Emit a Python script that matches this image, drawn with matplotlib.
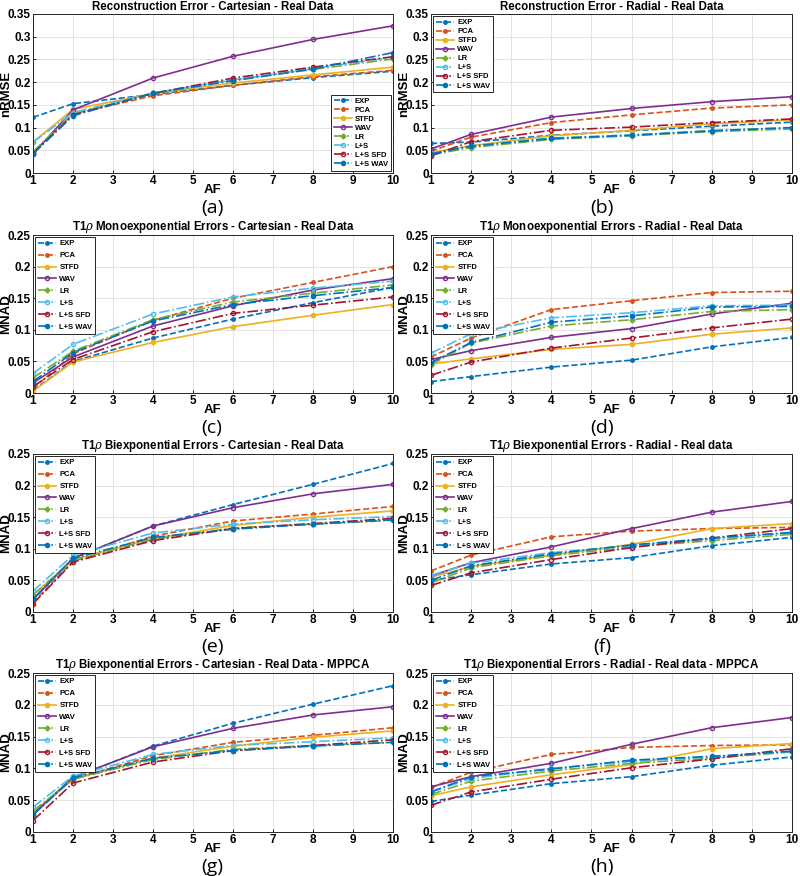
import matplotlib
matplotlib.use("Agg")
import matplotlib.pyplot as plt

AF = [1, 2, 4, 6, 8, 10]
methods = ["EXP", "PCA", "STFD", "WAV", "LR", "L+S", "L+S SFD", "L+S WAV"]

# (a) Reconstruction Error - Cartesian
a_vals = {
    "EXP": [0.1225, 0.1526, 0.173, 0.193, 0.210, 0.224],
    "PCA": [0.045, 0.130, 0.170, 0.193, 0.212, 0.226],
    "STFD": [0.068, 0.140, 0.175, 0.198, 0.216, 0.233],
    "WAV": [0.042, 0.139, 0.209, 0.257, 0.294, 0.324],
    "LR": [0.047, 0.130, 0.175, 0.205, 0.228, 0.251],
    "L+S": [0.068, 0.133, 0.176, 0.205, 0.230, 0.255],
    "L+S SFD": [0.043, 0.128, 0.175, 0.209, 0.233, 0.256],
    "L+S WAV": [0.042, 0.126, 0.176, 0.203, 0.229, 0.265],
}
# (b) Reconstruction Error - Radial
b_vals = {
    "EXP": [0.065, 0.068, 0.083, 0.093, 0.103, 0.112],
    "PCA": [0.048, 0.079, 0.111, 0.128, 0.143, 0.150],
    "STFD": [0.045, 0.060, 0.082, 0.094, 0.108, 0.117],
    "WAV": [0.053, 0.085, 0.123, 0.142, 0.157, 0.168],
    "LR": [0.040, 0.056, 0.074, 0.082, 0.091, 0.097],
    "L+S": [0.043, 0.060, 0.077, 0.084, 0.093, 0.100],
    "L+S SFD": [0.038, 0.069, 0.094, 0.101, 0.111, 0.119],
    "L+S WAV": [0.042, 0.059, 0.076, 0.083, 0.093, 0.100],
}
# (c) Mono - Cartesian
c_vals = {
    "EXP": [0.004, 0.050, 0.087, 0.117, 0.143, 0.167],
    "PCA": [0.007, 0.062, 0.115, 0.150, 0.175, 0.200],
    "STFD": [0.003, 0.049, 0.080, 0.105, 0.123, 0.140],
    "WAV": [0.016, 0.057, 0.106, 0.138, 0.163, 0.181],
    "LR": [0.024, 0.066, 0.116, 0.144, 0.158, 0.171],
    "L+S": [0.031, 0.077, 0.125, 0.152, 0.166, 0.177],
    "L+S SFD": [0.010, 0.053, 0.097, 0.126, 0.139, 0.152],
    "L+S WAV": [0.018, 0.064, 0.114, 0.140, 0.154, 0.167],
}
# (d) Mono - Radial
d_vals = {
    "EXP": [0.018, 0.026, 0.041, 0.052, 0.073, 0.088],
    "PCA": [0.057, 0.087, 0.132, 0.146, 0.159, 0.161],
    "STFD": [0.046, 0.054, 0.069, 0.077, 0.093, 0.103],
    "WAV": [0.053, 0.067, 0.088, 0.102, 0.125, 0.142],
    "LR": [0.045, 0.079, 0.106, 0.116, 0.129, 0.132],
    "L+S": [0.063, 0.094, 0.119, 0.127, 0.138, 0.139],
    "L+S SFD": [0.028, 0.049, 0.071, 0.087, 0.103, 0.117],
    "L+S WAV": [0.048, 0.080, 0.112, 0.122, 0.136, 0.137],
}
# (e) Bi - Cartesian
e_vals = {
    "EXP": [0.020, 0.085, 0.136, 0.170, 0.202, 0.235],
    "PCA": [0.015, 0.080, 0.120, 0.144, 0.155, 0.167],
    "STFD": [0.027, 0.083, 0.116, 0.137, 0.150, 0.160],
    "WAV": [0.020, 0.085, 0.136, 0.165, 0.187, 0.202],
    "LR": [0.027, 0.082, 0.115, 0.133, 0.139, 0.145],
    "L+S": [0.033, 0.090, 0.125, 0.139, 0.146, 0.151],
    "L+S SFD": [0.013, 0.079, 0.113, 0.132, 0.140, 0.148],
    "L+S WAV": [0.020, 0.085, 0.118, 0.131, 0.139, 0.146],
}
# (f) Bi - Radial
f_vals = {
    "EXP": [0.050, 0.059, 0.076, 0.086, 0.105, 0.118],
    "PCA": [0.065, 0.090, 0.119, 0.128, 0.132, 0.134],
    "STFD": [0.055, 0.072, 0.090, 0.107, 0.132, 0.140],
    "WAV": [0.057, 0.078, 0.103, 0.132, 0.158, 0.175],
    "LR": [0.046, 0.070, 0.089, 0.103, 0.113, 0.123],
    "L+S": [0.058, 0.077, 0.094, 0.105, 0.116, 0.125],
    "L+S SFD": [0.042, 0.062, 0.083, 0.102, 0.117, 0.132],
    "L+S WAV": [0.050, 0.073, 0.092, 0.106, 0.117, 0.126],
}
# (g) Bi - Cartesian - MPPCA
g_vals = {
    "EXP": [0.027, 0.085, 0.135, 0.171, 0.201, 0.230],
    "PCA": [0.030, 0.083, 0.120, 0.141, 0.152, 0.164],
    "STFD": [0.030, 0.083, 0.116, 0.135, 0.149, 0.159],
    "WAV": [0.028, 0.086, 0.134, 0.163, 0.184, 0.197],
    "LR": [0.033, 0.083, 0.114, 0.130, 0.136, 0.141],
    "L+S": [0.039, 0.088, 0.122, 0.136, 0.142, 0.148],
    "L+S SFD": [0.018, 0.077, 0.110, 0.128, 0.136, 0.145],
    "L+S WAV": [0.027, 0.085, 0.116, 0.128, 0.135, 0.141],
}
# (h) Bi - Radial - MPPCA
h_vals = {
    "EXP": [0.048, 0.058, 0.076, 0.087, 0.105, 0.118],
    "PCA": [0.070, 0.094, 0.122, 0.133, 0.136, 0.137],
    "STFD": [0.057, 0.071, 0.090, 0.106, 0.131, 0.139],
    "WAV": [0.071, 0.087, 0.108, 0.138, 0.164, 0.180],
    "LR": [0.059, 0.080, 0.096, 0.108, 0.116, 0.126],
    "L+S": [0.063, 0.084, 0.100, 0.111, 0.118, 0.127],
    "L+S SFD": [0.042, 0.063, 0.083, 0.101, 0.115, 0.131],
    "L+S WAV": [0.063, 0.087, 0.099, 0.113, 0.119, 0.127],
}

titles = [
    "Reconstruction Error - Cartesian - Real Data",
    "Reconstruction Error - Radial - Real Data",
    r"T1$\rho$ Monoexponential Errors - Cartesian - Real Data",
    r"T1$\rho$ Monoexponential Errors - Radial - Real Data",
    r"T1$\rho$ Biexponential Errors - Cartesian - Real Data",
    r"T1$\rho$ Biexponential Errors - Radial - Real data",
    r"T1$\rho$ Biexponential Errors - Cartesian - Real Data - MPPCA",
    r"T1$\rho$ Biexponential Errors - Radial - Real data - MPPCA",
]
panel_labels = ["(a)", "(b)", "(c)", "(d)", "(e)", "(f)", "(g)", "(h)"]
ylabels = ["nRMSE", "nRMSE"] + ["MNAD"] * 6
datasets = [a_vals, b_vals, c_vals, d_vals, e_vals, f_vals, g_vals, h_vals]

C_BLUE = (0.0, 0.447, 0.741)
C_ORANGE = (0.85, 0.325, 0.098)
C_YELLOW = (0.929, 0.694, 0.125)
C_PURPLE = (0.494, 0.184, 0.556)
C_GREEN = (0.466, 0.674, 0.188)
C_CYAN = (0.301, 0.745, 0.933)
C_RED = (0.635, 0.078, 0.184)
styles = {
    "EXP": dict(color=C_BLUE, ls="--", marker=".", ms=5),
    "PCA": dict(color=C_ORANGE, ls="--", marker=".", ms=5),
    "STFD": dict(color=C_YELLOW, ls="-", marker="o", ms=3.0),
    "WAV": dict(color=C_PURPLE, ls="-", marker="o", ms=3.0, mfc="none"),
    "LR": dict(color=C_GREEN, ls="-.", marker="P", ms=3.2),
    "L+S": dict(color=C_CYAN, ls="-.", marker="o", ms=3.0, mfc="none"),
    "L+S SFD": dict(color=C_RED, ls="-.", marker="o", ms=3.0, mfc="none"),
    "L+S WAV": dict(color=C_BLUE, ls="-.", marker="o", ms=3.0),
}

plt.rcParams["font.family"] = ["Liberation Sans", "DejaVu Sans"]
plt.rcParams["mathtext.fontset"] = "dejavuserif"

W, H = 800, 876
fig = plt.figure(figsize=(W / 100, H / 100), dpi=100)

cols = [(33, 393), (431, 792)]
rows = [(14, 173), (235, 393), (454, 612), (673, 832)]
label_x = [212, 602]

for i in range(8):
    r, c = divmod(i, 2)
    x0, x1 = cols[c]
    y0, y1 = rows[r]
    ax = fig.add_axes([x0 / W, 1 - y1 / H, (x1 - x0) / W, (y1 - y0) / H])
    data = datasets[i]
    for m in methods:
        st = dict(styles[m])
        ax.plot(AF, data[m], label=m, lw=1.2, **st)
    ax.set_xlim(1, 10)
    ax.set_xticks(range(1, 11))
    if i < 2:
        ax.set_ylim(0, 0.35)
        ax.set_yticks([0, 0.05, 0.1, 0.15, 0.2, 0.25, 0.3, 0.35])
        ax.set_yticklabels(["0", "0.05", "0.1", "0.15", "0.2", "0.25", "0.3", "0.35"])
    else:
        ax.set_ylim(0, 0.25)
        ax.set_yticks([0, 0.05, 0.1, 0.15, 0.2, 0.25])
        ax.set_yticklabels(["0", "0.05", "0.1", "0.15", "0.2", "0.25"])
    ax.grid(True, color="#e3e3e3", lw=0.7)
    ax.set_axisbelow(True)
    for sp in ax.spines.values():
        sp.set_color("#262626")
        sp.set_linewidth(0.7)
    ax.tick_params(labelsize=8.5, length=2.5, width=0.6, pad=1.5, direction="in")
    for t in ax.get_xticklabels() + ax.get_yticklabels():
        t.set_fontweight("bold")
    ax.set_title(titles[i], fontsize=8.3, fontweight="bold", pad=3)
    ax.set_xlabel("AF", fontsize=9.5, fontweight="bold", labelpad=-2)
    ax.set_ylabel(ylabels[i], fontsize=9.5, fontweight="bold", labelpad=-3)
    loc = "lower right" if i == 0 else "upper left"
    spacing = 0.22 if i < 2 else 0.6
    leg = ax.legend(loc=loc, fontsize=5.5, frameon=True, fancybox=False,
                    edgecolor="#262626", framealpha=1, handlelength=2.4,
                    handletextpad=0.4, borderpad=0.35, labelspacing=spacing,
                    borderaxespad=0.3)
    leg.get_frame().set_linewidth(0.7)
    for t in leg.get_texts():
        t.set_fontweight("bold")
    fig.text(label_x[c] / W, 1 - (y1 + 35) / H, panel_labels[i], fontsize=14,
             family=["Open Sans", "DejaVu Sans"], ha="center", va="center")

fig.savefig("out.png", dpi=100)
